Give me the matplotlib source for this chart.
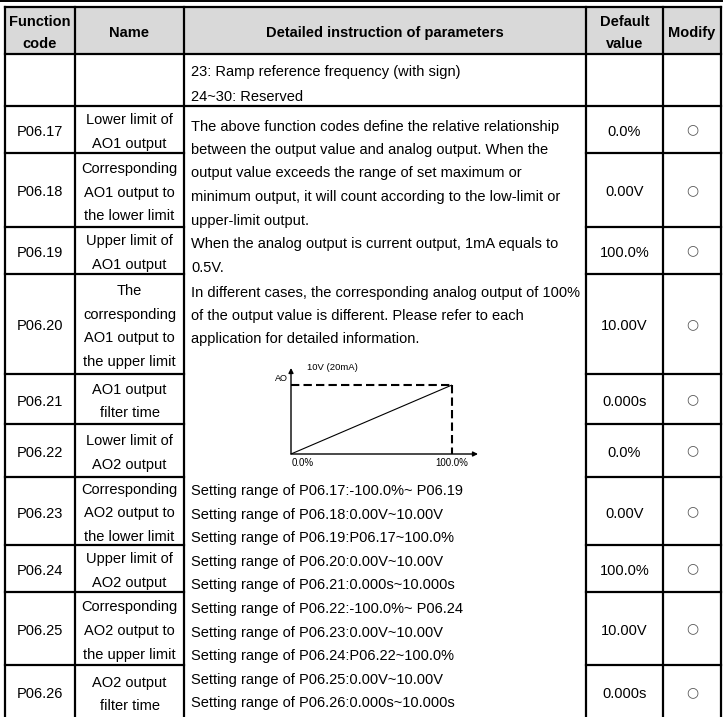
import matplotlib
matplotlib.use("Agg")
import matplotlib.pyplot as plt
from matplotlib.patches import Rectangle

# ---------------- data ----------------
headers = ["Function\ncode", "Name", "Detailed instruction of parameters", "Default\nvalue", "Modify"]
codes = ["", "P06.17", "P06.18", "P06.19", "P06.20", "P06.21", "P06.22",
         "P06.23", "P06.24", "P06.25", "P06.26"]
names = ["",
         "Lower limit of\nAO1 output",
         "Corresponding\nAO1 output to\nthe lower limit",
         "Upper limit of\nAO1 output",
         "The\ncorresponding\nAO1 output to\nthe upper limit",
         "AO1 output\nfilter time",
         "Lower limit of\nAO2 output",
         "Corresponding\nAO2 output to\nthe lower limit",
         "Upper limit of\nAO2 output",
         "Corresponding\nAO2 output to\nthe upper limit",
         "AO2 output\nfilter time"]
defaults = ["", "0.0%", "0.00V", "100.0%", "10.00V", "0.000s", "0.0%",
            "0.00V", "100.0%", "10.00V", "0.000s"]
modify = ["", "○", "○", "○", "○", "○", "○", "○", "○", "○", "○"]

desc_top = ["23: Ramp reference frequency (with sign)", "24~30: Reserved"]
desc_mid = ["The above function codes define the relative relationship",
            "between the output value and analog output. When the",
            "output value exceeds the range of set maximum or",
            "minimum output, it will count according to the low-limit or",
            "upper-limit output.",
            "When the analog output is current output, 1mA equals to",
            "0.5V.",
            "In different cases, the corresponding analog output of 100%",
            "of the output value is different. Please refer to each",
            "application for detailed information."]
desc_bot = ["Setting range of P06.17:-100.0%~ P06.19",
            "Setting range of P06.18:0.00V~10.00V",
            "Setting range of P06.19:P06.17~100.0%",
            "Setting range of P06.20:0.00V~10.00V",
            "Setting range of P06.21:0.000s~10.000s",
            "Setting range of P06.22:-100.0%~ P06.24",
            "Setting range of P06.23:0.00V~10.00V",
            "Setting range of P06.24:P06.22~100.0%",
            "Setting range of P06.25:0.00V~10.00V",
            "Setting range of P06.26:0.000s~10.000s"]

chart_x = [0.0, 100.0]
chart_y = [0.0, 10.0]
chart_xlabels = ["0.0%", "100.0%"]
chart_ylabel = "AO"
chart_toplabel = "10V (20mA)"

# ---------------- layout (pixels) ----------------
W, H = 723, 717
col_edges = [5, 75, 184, 586, 663, 721]
row_edges = [7, 54, 106, 153, 227, 274, 374, 424, 477, 545, 592, 665, 740]
PITCH = 23.5
FS = 10.5
FONT = ["Liberation Sans", "DejaVu Sans"]
CELL_DY = 2.5
DESC_DY = 1.5

fig = plt.figure(figsize=(W / 100, H / 100), dpi=100)
ax = fig.add_axes([0, 0, 1, 1])
ax.set_xlim(0, W)
ax.set_ylim(H, 0)
ax.axis("off")

def lines_in(x, text, yc, ha="center", bold=False, fs=FS, color="black", pitch=PITCH):
    parts = text.split("\n")
    n = len(parts)
    for i, p in enumerate(parts):
        y = yc + (i - (n - 1) / 2) * pitch + CELL_DY
        ax.text(x, y, p, ha=ha, va="center", fontsize=fs, family=FONT,
                fontweight="bold" if bold else "normal", color=color)

# header background
ax.add_patch(Rectangle((col_edges[0], row_edges[0]), col_edges[-1] - col_edges[0],
                       row_edges[1] - row_edges[0], facecolor="#d9d9d9", edgecolor="none"))

LW = 1.6
# top rule of page
ax.plot([0, W], [1, 1], color="black", lw=1.4)
for x in col_edges:
    ax.plot([x, x], [row_edges[0], H + 5], color="black", lw=LW)
for y in row_edges[:3]:
    ax.plot([col_edges[0], col_edges[-1]], [y, y], color="black", lw=LW)
for y in row_edges[3:-1]:
    ax.plot([col_edges[0], col_edges[2]], [y, y], color="black", lw=LW)
    ax.plot([col_edges[3], col_edges[5]], [y, y], color="black", lw=LW)

# header text
hy = (row_edges[0] + row_edges[1]) / 2
for i, h in enumerate(headers):
    xc = (col_edges[i] + col_edges[i + 1]) / 2
    lines_in(xc, h, hy, bold=True, pitch=23)

# body rows
for r in range(len(codes)):
    y0, y1 = row_edges[r + 1], row_edges[r + 2]
    yc = (y0 + y1) / 2
    if r == len(codes) - 1:
        yc = (y0 + 717) / 2 + 1
    if codes[r]:
        lines_in((col_edges[0] + col_edges[1]) / 2, codes[r], yc)
    if names[r]:
        lines_in((col_edges[1] + col_edges[2]) / 2, names[r], yc)
    if defaults[r]:
        lines_in((col_edges[3] + col_edges[4]) / 2, defaults[r], yc)
    if modify[r]:
        ax.text((col_edges[4] + col_edges[5]) / 2, yc, modify[r], ha="center",
                va="center", fontsize=10, family=["DejaVu Sans"], color="#555555")

# description texts
DX = 191
for i, t in enumerate(desc_top):
    ax.text(DX, 70.5 + i * 25 + DESC_DY, t, ha="left", va="center", fontsize=FS, family=FONT)
mid_y = [125, 148.5, 172, 195.5, 219, 242.5, 266, 291, 314.5, 338]
for t, y in zip(desc_mid, mid_y):
    ax.text(DX, y + DESC_DY, t, ha="left", va="center", fontsize=FS, family=FONT)
for i, t in enumerate(desc_bot):
    ax.text(DX, 489.5 + i * 23.6 + DESC_DY, t, ha="left", va="center", fontsize=FS, family=FONT)

# ---------------- inset chart ----------------
px0, px100 = 291, 452      # pixel x of 0% and 100%
py0, py10 = 454, 385       # pixel y of 0 and 10
pxend, pytop = 478, 368    # arrow ends
xmax = chart_x[-1] * (pxend - px0) / (px100 - px0)
ymax = chart_y[-1] * (py0 - pytop) / (py0 - py10)
ax2 = fig.add_axes([px0 / W, 1 - py0 / H, (pxend - px0) / W, (py0 - pytop) / H])
ax2.set_xlim(0, xmax)
ax2.set_ylim(0, ymax)
ax2.axis("off")
ax2.patch.set_alpha(0)

ax2.plot(chart_x, chart_y, color="black", lw=0.8, solid_capstyle="butt")
ax2.plot([chart_x[0], chart_x[-1]], [chart_y[-1], chart_y[-1]], color="black",
         lw=1.5, dashes=(4, 2))
ax2.plot([chart_x[-1], chart_x[-1]], [chart_y[-1], chart_y[0]], color="black",
         lw=1.5, dashes=(4, 2))
ax2.annotate("", xy=(xmax, 0), xytext=(0, 0),
             arrowprops=dict(arrowstyle="-|>", lw=1.0, color="black",
                             mutation_scale=7, shrinkA=0, shrinkB=0))
ax2.annotate("", xy=(0, ymax), xytext=(0, 0),
             arrowprops=dict(arrowstyle="-|>", lw=1.0, color="black",
                             mutation_scale=7, shrinkA=0, shrinkB=0))
ax2.text(-2, ymax * 0.93, chart_ylabel, ha="right", va="top", fontsize=6.5,
         family=FONT, clip_on=False)
ax2.text(10, ymax + 0.1, chart_toplabel, ha="left", va="center", fontsize=6.8,
         family=FONT, clip_on=False)
for xv, lab in zip(chart_x, chart_xlabels):
    ax2.text(xv + (7 if xv == chart_x[0] else 0), -1.3, lab, ha="center", va="center",
             fontsize=7, family=FONT, clip_on=False)

fig.savefig("out.png", dpi=100)
